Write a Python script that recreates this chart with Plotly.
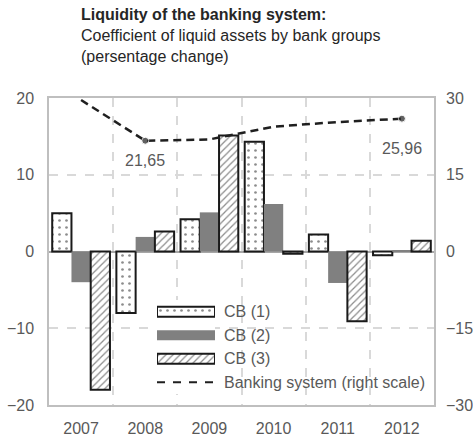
import plotly.graph_objects as go

years = ["2007", "2008", "2009", "2010", "2011", "2012"]
cb1 = [5.0, -8.0, 4.2, 14.3, 2.2, -0.5]
cb2 = [-4.0, 1.9, 5.1, 6.2, -4.1, 0.2]
cb3 = [-18.0, 2.6, 15.1, -0.3, -9.1, 1.4]
banking_system = [29.6, 21.65, 21.9, 24.4, 25.3, 25.96]

left_ticks = [-20, -10, 0, 10, 20]
right_ticks = [-30, -15, 0, 15, 30]

FONT = "Liberation Sans, Arial, sans-serif"
TICK_COLOR = "#595959"
GRID_COLOR = "#d9d9d9"
INK = "#1a1a1a"

# marker styles shared by the bars and their legend keys
styles = {
    "CB (1)": dict(color="white", line=dict(color=INK, width=2),
                   pattern=dict(shape=".", fgcolor=INK, bgcolor="white",
                                size=7, solidity=0.12)),
    "CB (2)": dict(color="#808080", line=dict(color="#808080", width=0)),
    "CB (3)": dict(color="white", line=dict(color=INK, width=2),
                   pattern=dict(shape="/", fgcolor=INK, bgcolor="white",
                                size=5, solidity=0.25)),
}
line_style = dict(color="#1f1f1f", width=2.5, dash="8px,5px")

fig = go.Figure()

for name, vals in [("CB (1)", cb1), ("CB (2)", cb2), ("CB (3)", cb3)]:
    fig.add_trace(go.Bar(x=years, y=vals, name=name, marker=styles[name],
                         showlegend=False))

# Banking system ratio on the right-hand scale; dots only on the labelled years
labelled = {"2008", "2012"}
fig.add_trace(go.Scatter(
    x=years, y=banking_system, name="Banking system (right scale)",
    yaxis="y2", mode="lines+markers", line=line_style, showlegend=False,
    marker=dict(size=[7 if y in labelled else 0 for y in years], color="#1f1f1f"),
))

for i, (yr, val) in enumerate(zip(years, banking_system)):
    if yr in labelled:
        fig.add_annotation(
            x=i, xref="x", y=val, yref="y2",
            text=f"{val:.2f}".replace(".", ","),
            showarrow=False, yshift=-20 if yr == "2008" else -30,
            font=dict(family=FONT, size=16, color=TICK_COLOR),
        )

# Legend drawn as a small inset: wide swatches with their labels
legend_rows = ["CB (1)", "CB (2)", "CB (3)", "Banking system (right scale)"]
for row, name in enumerate(legend_rows[:3]):
    fig.add_trace(go.Bar(
        x=[1], y=[row], base=[0], orientation="h", width=0.42,
        marker=styles[name], xaxis="x3", yaxis="y3",
        showlegend=False, hoverinfo="skip",
    ))
fig.add_trace(go.Scatter(
    x=[0, 1], y=[3, 3], mode="lines",
    line=dict(color="#1f1f1f", width=2, dash="8px,8px"),
    xaxis="x3", yaxis="y3", showlegend=False, hoverinfo="skip",
))
for row, name in enumerate(legend_rows):
    fig.add_annotation(
        x=0.449, xref="paper", y=row, yref="y3", text=name,
        xanchor="left", showarrow=False,
        font=dict(family=FONT, size=16, color=TICK_COLOR),
    )

# Title block
fig.add_annotation(
    x=(79 - 49) / 385, xref="paper", y=(405 - 4) / 307, yref="paper",
    xanchor="left", yanchor="top", align="left", showarrow=False,
    text="<b>Liquidity of the banking system:</b><br>"
         "Coefficient of liquid assets by bank groups<br>"
         "(persentage change)",
    font=dict(family=FONT, size=16, color="#262626"),
)

fig.update_layout(
    width=473, height=439,
    margin=dict(l=49, r=39, t=98, b=34, autoexpand=False),
    paper_bgcolor="white", plot_bgcolor="white",
    barmode="group", bargap=0.1, bargroupgap=0,
    font=dict(family=FONT, size=16, color=TICK_COLOR),
    showlegend=False,
    xaxis=dict(
        type="category", range=[-0.5, 5.5], tickson="boundaries", showgrid=True,
        gridcolor=GRID_COLOR, griddash="dash", gridwidth=1.5,
        ticks="", showline=True, linecolor="#bfbfbf", linewidth=1.5, mirror=True,
        tickfont=dict(size=16, color=TICK_COLOR), tickangle=0,
        ticklabelstandoff=8, automargin=False,
    ),
    yaxis=dict(
        range=[-20, 20], tickvals=left_ticks, showgrid=True,
        gridcolor=GRID_COLOR, griddash="dash", gridwidth=1.5,
        zeroline=True, zerolinecolor="#a6a6a6", zerolinewidth=1.5,
        showline=True, linecolor="#bfbfbf", linewidth=1.5, mirror=True,
        ticks="", tickfont=dict(size=16, color=TICK_COLOR),
        ticklabelstandoff=10, automargin=False,
    ),
    yaxis2=dict(
        range=[-30, 30], tickvals=right_ticks, overlaying="y", side="right",
        showgrid=False, zeroline=False, ticks="",
        tickfont=dict(size=16, color=TICK_COLOR),
        ticklabelstandoff=11, automargin=False,
    ),
    xaxis3=dict(domain=[(157 - 49) / 385, (215 - 49) / 385], range=[0, 1],
                visible=False, fixedrange=True),
    yaxis3=dict(domain=[(405 - 394) / 307, (405 - 300) / 307], range=[3.5, -0.5],
                visible=False, fixedrange=True),
)

fig.write_html("out.html")
